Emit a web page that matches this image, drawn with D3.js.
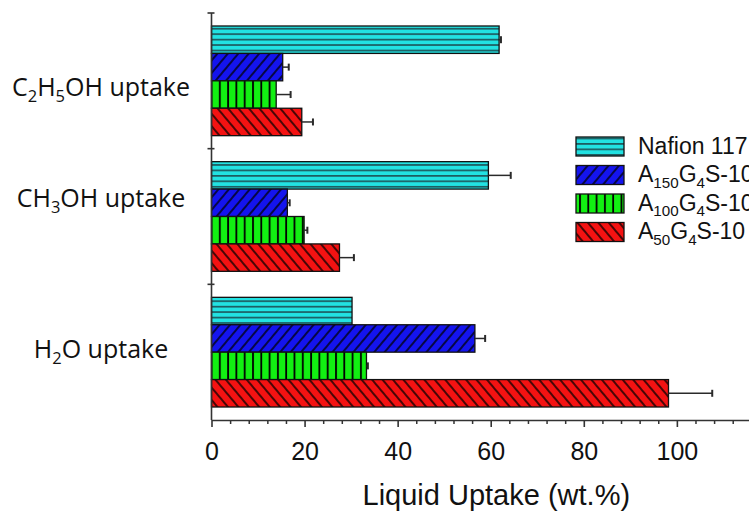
<!DOCTYPE html>
<html>
<head>
<meta charset="utf-8">
<script src="https://cdn.jsdelivr.net/npm/d3@7"></script>
<style>
  html, body { margin: 0; padding: 0; background: #fff; overflow: hidden; }
  svg { display: block; }
</style>
</head>
<body>
<svg id="chart" width="749" height="513"></svg>
<script>
// ---------------- DATA ----------------
const categories = ["C2H5OH uptake", "CH3OH uptake", "H2O uptake"];
const seriesNames = ["Nafion 117", "A150G4S-10", "A100G4S-10", "A50G4S-10"];
const nafion117 = [61.8, 59.5, 30.2];
const a150 = [15.3, 16.3, 56.6];
const a100 = [13.9, 19.9, 33.3];
const a50 = [19.4, 27.5, 98.2];
const nafion117Err = [0.4, 4.8, 0];
const a150Err = [1.3, 0.5, 2.2];
const a100Err = [3.1, 0.7, 0.3];
const a50Err = [2.4, 3.1, 9.4];
const xTickLabels = [0, 20, 40, 60, 80, 100];
const xTitle = "Liquid Uptake (wt.%)";

// ---------------- SETUP ----------------
const W = 749, H = 513;
const svg = d3.select("#chart");
const values = [nafion117, a150, a100, a50];
const errors = [nafion117Err, a150Err, a100Err, a50Err];

const plotLeft = 211.5, plotTop = 13, plotBottom = 420;
const x = d3.scaleLinear().domain([0, 115.5]).range([plotLeft, W]);
const y0 = d3.scaleBand().domain(categories).range([plotTop, plotBottom]).padding(0);
const groupPad = 13;
const y1 = d3.scaleBand().domain(seriesNames).range([groupPad, y0.bandwidth() - groupPad]).padding(0);

// ---------------- PATTERNS ----------------
const defs = svg.append("defs");
const fills = ["#22e2e2", "#1414ee", "#12f012", "#f41212"];
const patIds = ["pNafion", "pA150", "pA100", "pA50"];

function mkPattern(id, w, h, bg, draw, transform) {
  const p = defs.append("pattern").attr("id", id)
    .attr("patternUnits", "userSpaceOnUse")
    .attr("width", w).attr("height", h);
  if (transform) p.attr("patternTransform", transform);
  p.append("rect").attr("width", w).attr("height", h).attr("fill", bg);
  draw(p);
}
// horizontal stripes
mkPattern(patIds[0], 10, 5.45, fills[0], p => {
  p.append("line").attr("x1", 0).attr("x2", 10).attr("y1", 0.8).attr("y2", 0.8)
    .attr("stroke", "#1d5c60").attr("stroke-width", 1.8);
}, "translate(0,0.6)");
// "/" diagonals
mkPattern(patIds[1], 8, 10, fills[1], p => {
  p.append("line").attr("x1", 1).attr("x2", 1).attr("y1", 0).attr("y2", 10)
    .attr("stroke", "#000").attr("stroke-width", 1.4);
}, "rotate(40)");
// vertical lines
mkPattern(patIds[2], 8.3, 10, fills[2], p => {
  p.append("line").attr("x1", 1).attr("x2", 1).attr("y1", 0).attr("y2", 10)
    .attr("stroke", "#000").attr("stroke-width", 1.8);
}, "translate(3,0)");
// "\" diagonals
mkPattern(patIds[3], 8, 10, fills[3], p => {
  p.append("line").attr("x1", 1).attr("x2", 1).attr("y1", 0).attr("y2", 10)
    .attr("stroke", "#000").attr("stroke-width", 1.4);
}, "rotate(-40)");

// ---------------- RICH TEXT (subscripts) ----------------
function richText(sel, str, fs) {
  const parts = str.split(/(?<=[A-Za-z])(\d+)/);
  let shift = 0;
  parts.forEach((t, i) => {
    if (!t) return;
    const sub = i % 2 === 1;
    const target = sub ? fs * 0.24 : 0;
    sel.append("tspan")
      .attr("font-size", sub ? fs * 0.66 : fs)
      .attr("dy", target - shift)
      .text(t);
    shift = target;
  });
}

// ---------------- BARS ----------------
const rows = [];
categories.forEach((c, ci) => {
  seriesNames.forEach((s, si) => {
    rows.push({ c, s, si, v: values[si][ci], e: errors[si][ci] });
  });
});

const gBars = svg.append("g");
gBars.selectAll("rect.bar").data(rows).join("rect")
  .attr("class", "bar")
  .attr("x", x(0))
  .attr("y", d => y0(d.c) + y1(d.s))
  .attr("width", d => x(d.v) - x(0))
  .attr("height", y1.bandwidth())
  .attr("fill", d => `url(#${patIds[d.si]})`)
  .attr("stroke", "#111").attr("stroke-width", 1.3);

// error bars (positive side)
const errRows = rows.filter(d => d.e > 0);
const gErr = svg.append("g").attr("stroke", "#2a2a2a").attr("stroke-width", 1.5);
gErr.selectAll("line.eb").data(errRows).join("line")
  .attr("x1", d => x(d.v)).attr("x2", d => x(d.v + d.e))
  .attr("y1", d => y0(d.c) + y1(d.s) + y1.bandwidth() / 2)
  .attr("y2", d => y0(d.c) + y1(d.s) + y1.bandwidth() / 2);
gErr.selectAll("line.cap").data(errRows).join("line")
  .attr("x1", d => x(d.v + d.e)).attr("x2", d => x(d.v + d.e))
  .attr("y1", d => y0(d.c) + y1(d.s) + y1.bandwidth() / 2 - 3.5)
  .attr("y2", d => y0(d.c) + y1(d.s) + y1.bandwidth() / 2 + 3.5)
  .attr("stroke-width", 2);

// ---------------- AXES ----------------
const axisColor = "#333";
// x axis minor ticks
const minorVals = d3.range(0, 116, 4).filter(v => v % 20 !== 0);
const xMinor = svg.append("g").attr("transform", `translate(0,${plotBottom})`)
  .call(d3.axisBottom(x).tickValues(minorVals).tickSize(4).tickFormat(""));
xMinor.select(".domain").remove();
xMinor.selectAll("line").attr("stroke", axisColor).attr("stroke-width", 1.5);

const xAxis = svg.append("g").attr("transform", `translate(0,${plotBottom})`)
  .call(d3.axisBottom(x).tickValues(xTickLabels).tickSize(7).tickPadding(15).tickSizeOuter(0));
xAxis.select(".domain").attr("stroke", axisColor).attr("stroke-width", 1.6);
xAxis.selectAll(".tick line").attr("stroke", axisColor).attr("stroke-width", 1.6);
xAxis.selectAll(".tick text")
  .attr("font-family", "'Liberation Sans', Arial, sans-serif")
  .attr("font-size", 25).attr("fill", "#111");

// x title
svg.append("text")
  .attr("x", x(61.2)).attr("y", 505)
  .attr("text-anchor", "middle")
  .attr("font-family", "'Liberation Sans', Arial, sans-serif")
  .attr("font-size", 29).attr("fill", "#111")
  .text(xTitle);

// y axis
svg.append("line")
  .attr("x1", plotLeft).attr("x2", plotLeft)
  .attr("y1", plotTop).attr("y2", plotBottom)
  .attr("stroke", axisColor).attr("stroke-width", 1.6);
svg.append("g").selectAll("line").data(categories).join("line")
  .attr("x1", plotLeft - 4).attr("x2", plotLeft + 3)
  .attr("y1", d => y0(d)).attr("y2", d => y0(d))
  .attr("stroke", axisColor).attr("stroke-width", 1.6);

// category labels
const labelShift = [15.3, -9.8, 6.0];
categories.forEach((c, i) => {
  const t = svg.append("text")
    .attr("x", 101)
    .attr("y", y0(c) + y0.bandwidth() / 2 + labelShift[i])
    .attr("text-anchor", "middle")
    .attr("font-family", "'Open Sans', 'Noto Sans', sans-serif")
    .attr("fill", "#111");
  richText(t, c, 25);
});

// ---------------- LEGEND ----------------
const leg = svg.append("g").attr("transform", "translate(576,137)");
seriesNames.forEach((s, i) => {
  const g = leg.append("g").attr("transform", `translate(0,${i * 28.5})`);
  g.append("rect").attr("width", 48).attr("height", 19)
    .attr("fill", `url(#${patIds[i]})`)
    .attr("stroke", "#111").attr("stroke-width", 1.3);
  const t = g.append("text").attr("x", 62).attr("y", 16.5)
    .attr("font-family", "'Liberation Sans', Arial, sans-serif")
    .attr("fill", "#111");
  richText(t, s, 23);
});
</script>
</body>
</html>
